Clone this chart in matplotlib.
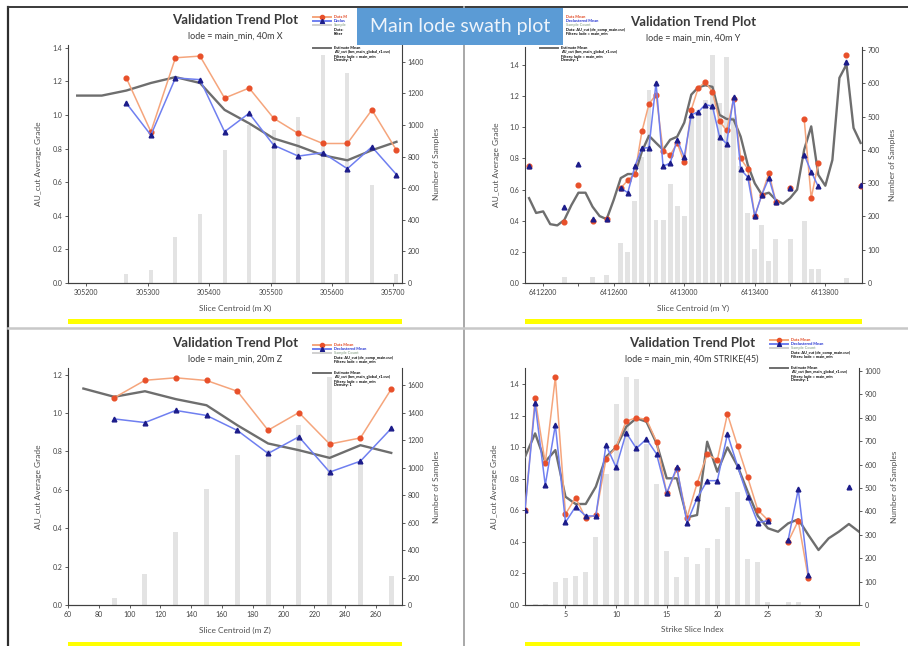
import matplotlib
matplotlib.use("Agg")
import matplotlib.pyplot as plt
import numpy as np
from matplotlib.lines import Line2D
from matplotlib.patches import Rectangle
from matplotlib.ticker import FormatStrFormatter, FixedLocator

# ---------------- DATA ----------------
# Panel 1: 40m X slices
x_est_X = [305185, 305225, 305265, 305305, 305345, 305385, 305425, 305465, 305505, 305545, 305585, 305625, 305665, 305705]
est_X = [1.115, 1.115, 1.145, 1.19, 1.225, 1.19, 1.03, 0.95, 0.86, 0.815, 0.76, 0.73, 0.79, 0.84]
x_pts_X = [305265, 305305, 305345, 305385, 305425, 305465, 305505, 305545, 305585, 305625, 305665, 305705]
data_X = [1.22, 0.90, 1.34, 1.35, 1.10, 1.16, 0.98, 0.89, 0.83, 0.83, 1.03, 0.79]
decl_X = [1.07, 0.88, 1.22, 1.21, 0.90, 1.01, 0.82, 0.755, 0.775, 0.68, 0.81, 0.645]
count_X = [55, 85, 291, 435, 840, 999, 967, 1051, 1442, 1326, 619, 55]
xticks_X = [305200, 305300, 305400, 305500, 305600, 305700]

# Panel 2: 40m Y slices
x_Y = [6412120, 6412160, 6412200, 6412240, 6412280, 6412320, 6412360, 6412400, 6412440, 6412480,
       6412520, 6412560, 6412600, 6412640, 6412680, 6412720, 6412760, 6412800, 6412840, 6412880,
       6412920, 6412960, 6413000, 6413040, 6413080, 6413120, 6413160, 6413200, 6413240, 6413280,
       6413320, 6413360, 6413400, 6413440, 6413480, 6413520, 6413560, 6413600, 6413640, 6413680,
       6413720, 6413760, 6413800, 6413840, 6413880, 6413920, 6413960, 6414000]
est_Y = [0.545, 0.45, 0.46, 0.378, 0.37, 0.405, 0.50, 0.58, 0.58, 0.49,
         0.43, 0.41, 0.534, 0.674, 0.70, 0.70, 0.845, 0.946, 0.90, 0.856,
         0.92, 0.94, 1.03, 1.21, 1.258, 1.27, 1.26, 1.08, 1.054, 1.05,
         0.94, 0.76, 0.64, 0.567, 0.58, 0.534, 0.509, 0.545, 0.60, 0.856,
         1.006, 0.695, 0.625, 0.79, 1.318, 1.404, 0.996, 0.90]
N = None
data_Y = [0.75, N, N, N, N, 0.39, N, 0.63, N, 0.40,
          N, 0.41, N, 0.61, 0.66, 0.70, 0.974, 1.15, 1.21, 0.85,
          0.82, 0.90, 0.775, 1.114, 1.255, 1.29, 1.228, 1.04, 0.98, 1.18,
          0.80, 0.734, 0.43, 0.567, 0.706, 0.52, N, 0.61, N, 1.054,
          0.545, 0.77, N, N, N, 1.464, N, 0.625]
decl_Y = [0.75, N, N, N, N, 0.485, N, 0.764, N, 0.414,
          N, 0.41, N, 0.61, 0.58, 0.75, 0.865, 0.87, 1.286, 0.75,
          0.77, 0.92, 0.81, 1.08, 1.10, 1.146, 1.135, 0.94, 0.895, 1.196,
          0.73, 0.68, 0.43, 0.567, 0.674, 0.52, N, 0.61, N, 0.824,
          0.715, 0.62, N, N, N, 1.418, N, 0.63]
count_Y = [0, 0, 0, 0, 0, 18, 0, 0, 0, 18,
           0, 24, 0, 121, 93, 247, 380, 580, 189, 189,
           297, 232, 202, 500, 520, 550, 685, 540, 680, 500,
           350, 210, 103, 174, 67, 132, 0, 132, 0, 185,
           43, 43, 0, 0, 0, 15, 0, 0]
xticks_Y = [6412200, 6412600, 6413000, 6413400, 6413800]

# Panel 3: 20m Z slices
x_est_Z = [70, 90, 110, 130, 150, 170, 190, 210, 230, 250, 270]
est_Z = [1.127, 1.084, 1.113, 1.072, 1.04, 0.936, 0.841, 0.806, 0.766, 0.832, 0.792]
x_pts_Z = [90, 110, 130, 150, 170, 190, 210, 230, 250, 270]
data_Z = [1.079, 1.17, 1.183, 1.169, 1.113, 0.91, 1.002, 0.838, 0.870, 1.124]
decl_Z = [0.969, 0.950, 1.013, 0.987, 0.909, 0.789, 0.876, 0.692, 0.749, 0.919]
count_Z = [53, 223, 528, 848, 1091, 1130, 1310, 1660, 1050, 211]
xticks_Z = [60, 80, 100, 120, 140, 160, 180, 200, 220, 240, 260]

# Panel 4: 40m strike (45) slices
idx_S = [1, 2, 3, 4, 5, 6, 7, 8, 9, 10, 11, 12, 13, 14, 15, 16, 17,
         18, 19, 20, 21, 22, 23, 24, 25, 26, 27, 28, 29, 30, 31, 32, 33, 34]
est_S = [0.94, 1.089, 0.909, 0.983, 0.687, 0.641, 0.641, 0.751, 0.94, 1.0, 1.131, 1.185, 1.163, 1.026, 0.804, 0.804, 0.556,
         0.571, 1.036, 0.846, 1.0, 0.882, 0.719, 0.565, 0.487, 0.465, 0.518, 0.544, 0.444, 0.349, 0.423, 0.465, 0.514, 0.465]
data_S = [0.60, 1.311, 0.899, 1.445, 0.577, 0.681, 0.55, 0.57, 0.924, 1.0, 1.167, 1.188, 1.178, 1.036, 0.708, 0.863, 0.554,
          0.772, 0.956, 0.92, 1.212, 1.009, 0.81, 0.603, 0.539, N, 0.402, 0.535, 0.169, N, N, N, N, N]
decl_S = [0.60, 1.279, 0.761, 1.142, 0.525, 0.624, 0.565, 0.565, 1.015, 0.874, 1.093, 0.994, 1.053, 0.958, 0.709, 0.874, 0.522,
          0.677, 0.789, 0.789, 1.085, 0.882, 0.687, 0.522, 0.535, N, 0.412, 0.734, 0.19, N, N, N, 0.751, N]
count_S = [0, 5, 5, 100, 114, 125, 140, 289, 560, 858, 976, 968, 690, 517, 232, 120, 204,
           175, 242, 280, 420, 484, 195, 185, 12, 0, 12, 12, 0, 0, 0, 0, 0, 0]
xticks_S = [5, 10, 15, 20, 25, 30]

subtitles = ["lode = main_min, 40m X", "lode = main_min, 40m Y",
             "lode = main_min, 20m Z", "lode = main_min, 40m STRIKE(45)"]
xlabels = ["Slice Centroid (m X)", "Slice Centroid (m Y)", "Slice Centroid (m Z)", "Strike Slice Index"]
legend_top = ["Data Mean", "Declustered Mean", "Sample Count",
              "Data: AU_cut (de_comp_main.csv)", "Filters: lode = main_min"]
legend_est = ["Estimate Mean", "AU_cut (bm_main_global_r1.csv)", "Filters: lode = main_min", "Density: 1"]

# ---------------- STYLE ----------------
W, H = 908, 646
plt.rcParams['font.family'] = ['Lato', 'DejaVu Sans']
fig = plt.figure(figsize=(W / 100, H / 100), dpi=100)
fig.patch.set_facecolor('white')

def fx(px):
    return px / W

def fy(py):
    return 1 - py / H

C_DATA_L = '#f5a57c'
C_DATA_M = '#e8502a'
C_DECL_L = '#6f7ff0'
C_DECL_M = '#1c1c8a'
C_EST = '#6e6e6e'
C_BAR = '#e3e3e3'
TXT = '#505050'

def arr(v):
    return np.array([np.nan if a is None else a for a in v], dtype=float)

def panel(box, xe, ye, xp, yd, ydc, xb, cnt, bw, xlim, ylim, yticks, y2lim, y2ticks,
          xticks, xticklabels, title_c, sub, xlab, ylab_l, ylab_r, minor=None):
    l, r, t, b = box
    ax = fig.add_axes([fx(l), fy(b), fx(r - l), (b - t) / H])
    ax2 = ax.twinx()
    ax2.bar(xb, cnt, width=bw, color=C_BAR, edgecolor='none', zorder=1)
    ax.plot(xe, ye, color=C_EST, lw=1.7, zorder=3)
    ax.plot(xp, arr(yd), color=C_DATA_L, lw=1.1, marker='o', ms=3.4,
            mfc=C_DATA_M, mec=C_DATA_M, zorder=4)
    ax.plot(xp, arr(ydc), color=C_DECL_L, lw=1.1, marker='^', ms=3.4,
            mfc=C_DECL_M, mec=C_DECL_M, zorder=5)
    ax.set_zorder(ax2.get_zorder() + 1)
    ax.patch.set_visible(False)
    ax.set_xlim(*xlim)
    ax.set_ylim(*ylim)
    ax2.set_ylim(*y2lim)
    ax.set_yticks(yticks)
    ax.yaxis.set_major_formatter(FormatStrFormatter('%.1f'))
    ax2.set_yticks(y2ticks)
    ax.set_xticks(xticks)
    ax.set_xticklabels(xticklabels)
    if minor is not None:
        ax.xaxis.set_minor_locator(FixedLocator(minor))
        ax.tick_params(axis='x', which='minor', length=2, color='#444')
    for a in (ax, ax2):
        a.spines['top'].set_visible(False)
        for s in ('left', 'right', 'bottom'):
            a.spines[s].set_color('#404040')
            a.spines[s].set_linewidth(0.8)
        a.tick_params(labelsize=5, colors='#404040', length=2.5, width=0.6, pad=1.5)
    ax2.spines['left'].set_visible(False)
    ax.spines['right'].set_visible(False)
    cx = (l + r) / 2
    fig.text(fx(cx), fy(t - 25), title_c, ha='center', va='center', fontsize=9.5,
             fontweight='bold', color='#3a3a3a')
    fig.text(fx(cx), fy(t - 9), sub, ha='center', va='center', fontsize=6.5, color='#3a3a3a')
    fig.text(fx(cx), fy(b + 25), xlab, ha='center', va='center', fontsize=6, color=TXT)
    fig.text(fx(ylab_l), fy((t + b) / 2), "AU_cut Average Grade", rotation=90,
             ha='center', va='center', fontsize=6, color=TXT)
    fig.text(fx(ylab_r), fy((t + b) / 2), "Number of Samples", rotation=90,
             ha='center', va='center', fontsize=6, color=TXT)
    return ax


def legend(hx, y0, y_est, top_x=None, trunc=None):
    """Tiny legend block; top entries may be partly hidden by the title box."""
    fs = 2.8
    tx = hx + 21 if top_x is None else top_x
    styles = [(C_DATA_L, C_DATA_M, 'o', '#e0401a'),
              (C_DECL_L, C_DECL_M, '^', '#1a2ad0'),
              ('#d0d0d0', None, None, '#9ab09a'),
              (None, None, None, 'black'),
              (None, None, None, 'black')]
    for i, ((lc, mc, mk, tc), lab) in enumerate(zip(styles, legend_top)):
        yy = y0 + i * 4.2
        if lc is not None:
            fig.add_artist(Line2D([fx(hx), fx(hx + 18)], [fy(yy), fy(yy)], color=lc, lw=1.4,
                                  transform=fig.transFigure))
        if mk:
            fig.add_artist(Line2D([fx(hx + 9)], [fy(yy)], marker=mk, ms=3, color=mc,
                                  transform=fig.transFigure))
        s = lab if trunc is None else lab[:trunc]
        fig.text(fx(tx), fy(yy), s, fontsize=fs, color=tc, va='center', fontweight='bold')
    fig.add_artist(Line2D([fx(hx), fx(hx + 18)], [fy(y_est), fy(y_est)], color=C_EST, lw=1.4,
                          transform=fig.transFigure))
    for j, s in enumerate(legend_est):
        fig.text(fx(hx + 21), fy(y_est + j * 4.0), s, fontsize=fs, color='black',
                 va='center', fontweight='bold')


T = "Validation Trend Plot"
panel((68, 402, 45, 283), x_est_X, est_X, x_pts_X, data_X, decl_X, x_pts_X, count_X, 6.5,
      (305170, 305714), (0, 1.416), [0, 0.2, 0.4, 0.6, 0.8, 1.0, 1.2, 1.4],
      (0, 1506), [0, 200, 400, 600, 800, 1000, 1200, 1400],
      xticks_X, [str(v) for v in xticks_X], T, subtitles[0], xlabels[0], 38, 437)
legend(313, 17, 48, trunc=6)

panel((525, 862, 47, 283), x_Y, est_Y, x_Y, data_Y, decl_Y, x_Y, count_Y, 28,
      (6412097, 6414008), (0, 1.516), [0, 0.2, 0.4, 0.6, 0.8, 1.0, 1.2, 1.4],
      (0, 709), [0, 100, 200, 300, 400, 500, 600, 700],
      xticks_Y, [str(v) for v in xticks_Y], T, subtitles[1], xlabels[1], 497, 893,
      minor=[6412400, 6412800, 6413200, 6413600])
legend(540, 17, 48, top_x=566)

panel((68, 402, 368, 605), x_est_Z, est_Z, x_pts_Z, data_Z, decl_Z, x_pts_Z, count_Z, 3.3,
      (60, 277), (0, 1.234), [0, 0.2, 0.4, 0.6, 0.8, 1.0, 1.2],
      (0, 1726), [0, 200, 400, 600, 800, 1000, 1200, 1400, 1600],
      xticks_Z, [str(v) for v in xticks_Z], T, subtitles[2], xlabels[2], 38, 437)
legend(313, 345, 373)

panel((525, 859, 368, 605), idx_S, est_S, idx_S, data_S, decl_S, idx_S, count_S, 0.5,
      (1.0, 34.0), (0, 1.504), [0, 0.2, 0.4, 0.6, 0.8, 1.0, 1.2, 1.4],
      (0, 1013), [0, 100, 200, 300, 400, 500, 600, 700, 800, 900, 1000],
      xticks_S, [str(v) for v in xticks_S], T, subtitles[3], xlabels[3], 495, 895)
legend(770, 340, 368)

# yellow highlight bars
for (x0, x1, y0, y1) in [(68, 402, 319, 324), (525, 862, 319, 324),
                         (68, 402, 641.5, 646), (525, 860, 641.5, 646)]:
    fig.add_artist(Rectangle((fx(x0), fy(y1)), fx(x1 - x0), (y1 - y0) / H,
                             facecolor='#ffff00', edgecolor='none', transform=fig.transFigure))

# frame lines
fig.add_artist(Line2D([fx(8), fx(8)], [fy(7), fy(646)], color='#2e2e2e', lw=1.6, transform=fig.transFigure))
fig.add_artist(Line2D([fx(8), fx(908)], [fy(7), fy(7)], color='#3a3a3a', lw=1.4, transform=fig.transFigure))
fig.add_artist(Line2D([fx(464.5), fx(464.5)], [fy(7), fy(646)], color='#a8a8a8', lw=1.4, transform=fig.transFigure))
fig.add_artist(Line2D([fx(8), fx(908)], [fy(328), fy(328)], color='#c8c8c8', lw=1.8, transform=fig.transFigure))

# main title box
fig.add_artist(Rectangle((fx(357), fy(45)), fx(563 - 357), 37 / H, facecolor='#5b9bd5',
                         edgecolor='none', transform=fig.transFigure, zorder=10))
fig.text(fx(460), fy(26.5), "Main lode swath plot", ha='center', va='center', fontsize=14,
         color='#eef4fb', zorder=11)

fig.savefig("out.png", dpi=100, facecolor='white')
